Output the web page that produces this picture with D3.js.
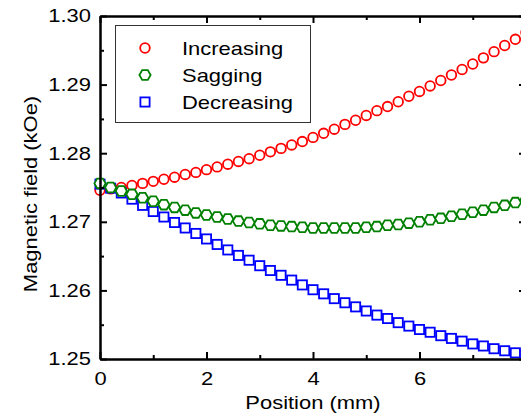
<!DOCTYPE html>
<html>
<head>
<meta charset="utf-8">
<script src="https://cdn.jsdelivr.net/npm/d3@7"></script>
<style>
  body { margin: 0; background: #fff; }
  svg { display: block; font-family: "Liberation Sans", Arial, sans-serif; }
</style>
</head>
<body>
<svg id="chart" width="521" height="416"></svg>
<script>
// positions in mm, one point every 0.2 mm
const positions = d3.range(41).map(i => +(i * 0.2).toFixed(1));

const increasing = [1.2746, 1.2748, 1.2750, 1.2753, 1.2756, 1.2759, 1.2762, 1.2765, 1.2769, 1.2772,
  1.2776, 1.2780, 1.2784, 1.2788, 1.2792, 1.2797, 1.2802, 1.2807, 1.2812, 1.2817,
  1.2823, 1.2829, 1.2835, 1.2842, 1.2848, 1.2855, 1.2862, 1.2868, 1.2875, 1.2883,
  1.2890, 1.2898, 1.2906, 1.2914, 1.2922, 1.2930, 1.2939, 1.2948, 1.2957, 1.2966, 1.2976];

const sagging = [1.2756, 1.2750, 1.2745, 1.2740, 1.2735, 1.2730, 1.2725, 1.2721, 1.2717, 1.2713,
  1.2710, 1.2707, 1.2704, 1.2701, 1.2699, 1.2697, 1.2695, 1.2694, 1.2693, 1.2692,
  1.2691, 1.2691, 1.2691, 1.2691, 1.2691, 1.2692, 1.2693, 1.2695, 1.2696, 1.2698,
  1.2700, 1.2703, 1.2705, 1.2708, 1.2711, 1.2714, 1.2717, 1.2721, 1.2724, 1.2728, 1.2732];

const decreasing = [1.2755, 1.2749, 1.2742, 1.2733, 1.2724, 1.2715, 1.2707, 1.2699, 1.2691, 1.2683,
  1.2675, 1.2667, 1.2659, 1.2651, 1.2644, 1.2636, 1.2629, 1.2622, 1.2615, 1.2608,
  1.2601, 1.2595, 1.2588, 1.2582, 1.2576, 1.2570, 1.2564, 1.2559, 1.2553, 1.2548,
  1.2543, 1.2539, 1.2534, 1.2530, 1.2526, 1.2522, 1.2519, 1.2515, 1.2512, 1.2509, 1.2506];

const seriesNames = ["Increasing", "Sagging", "Decreasing"];
const xMajor = [0, 2, 4, 6, 8];
const xMinor = [1, 3, 5, 7];
const yMajor = [1.25, 1.26, 1.27, 1.28, 1.29, 1.30];
const yMinor = [1.255, 1.265, 1.275, 1.285, 1.295];

const FONT = 18.6;
const STRETCH = 1.18; // text in the original is a bit wider than Arial

const svg = d3.select("#chart");

const x = d3.scaleLinear().domain([0, 8]).range([100, 526]);
const y = d3.scaleLinear().domain([1.25, 1.30]).range([359, 16]);

// marker shapes
function circleMark(g) {
  g.append("circle").attr("r", 4.8);
}
function hexMark(g) {
  const r = 5.6;
  const pts = d3.range(6).map(k => {
    const a = k * Math.PI / 3;
    return [r * Math.cos(a), r * Math.sin(a)];
  });
  g.append("path").attr("d", "M" + pts.join("L") + "Z");
}
function squareMark(g) {
  g.append("rect").attr("x", -4.6).attr("y", -4.6).attr("width", 9.2).attr("height", 9.2);
}

const series = [
  { name: seriesNames[0], values: increasing, color: "#ff0000", mark: circleMark },
  { name: seriesNames[1], values: sagging, color: "#008000", mark: hexMark },
  { name: seriesNames[2], values: decreasing, color: "#0000ff", mark: squareMark }
];

// draw order: red, blue, green
const drawOrder = [series[0], series[2], series[1]];
drawOrder.forEach(s => {
  const g = svg.append("g")
    .attr("fill", "#fff")
    .attr("stroke", s.color)
    .attr("stroke-width", 1.8);
  positions.forEach((p, i) => {
    const m = g.append("g").attr("transform", `translate(${x(p)},${y(s.values[i])})`);
    s.mark(m);
  });
});

// axes
function styleAxis(g) {
  g.selectAll("path.domain").attr("stroke", "#000").attr("stroke-width", 2);
  g.selectAll(".tick line").attr("stroke", "#000").attr("stroke-width", 2);
  g.selectAll("text").attr("font-size", FONT).attr("fill", "#000")
    .attr("font-family", "'Liberation Sans', Arial, sans-serif");
}

svg.append("g").attr("transform", "translate(0,359)")
  .call(d3.axisBottom(x).tickValues(xMinor).tickSizeInner(-4).tickSizeOuter(0).tickFormat(""))
  .call(styleAxis);
svg.append("g").attr("transform", "translate(0,359)")
  .call(d3.axisBottom(x).tickValues(xMajor).tickSizeInner(-7).tickSizeOuter(0).tickPadding(13).tickFormat(d3.format("d")))
  .call(styleAxis);

svg.append("g").attr("transform", "translate(0,16)")
  .call(d3.axisTop(x).tickValues(xMinor).tickSizeInner(-4).tickSizeOuter(0).tickFormat(""))
  .call(styleAxis);
svg.append("g").attr("transform", "translate(0,16)")
  .call(d3.axisTop(x).tickValues(xMajor).tickSizeInner(-7).tickSizeOuter(0).tickFormat(""))
  .call(styleAxis);

svg.append("g").attr("transform", "translate(100,0)")
  .call(d3.axisLeft(y).tickValues(yMinor).tickSizeInner(-4).tickSizeOuter(0).tickFormat(""))
  .call(styleAxis);
svg.append("g").attr("transform", "translate(100,0)")
  .call(d3.axisLeft(y).tickValues(yMajor).tickSizeInner(-7).tickSizeOuter(0).tickPadding(9).tickFormat(d3.format(".2f")))
  .call(styleAxis);

svg.append("g").attr("transform", "translate(526,0)")
  .call(d3.axisRight(y).tickValues(yMinor).tickSizeInner(-4).tickSizeOuter(0).tickFormat(""))
  .call(styleAxis);
svg.append("g").attr("transform", "translate(526,0)")
  .call(d3.axisRight(y).tickValues(yMajor).tickSizeInner(-7).tickSizeOuter(0).tickFormat(""))
  .call(styleAxis);

// axis titles
svg.append("text")
  .attr("x", 313).attr("y", 409)
  .attr("text-anchor", "middle")
  .attr("font-size", FONT)
  .text("Position (mm)");

svg.append("text")
  .attr("transform", "translate(37,194) rotate(-90)")
  .attr("text-anchor", "middle")
  .attr("font-size", FONT)
  .text("Magnetic field (kOe)");

// legend
const legend = svg.append("g");
legend.append("rect")
  .attr("x", 115.5).attr("y", 25.5)
  .attr("width", 195).attr("height", 97)
  .attr("fill", "#fff")
  .attr("stroke", "#333")
  .attr("stroke-width", 1);

series.forEach((s, i) => {
  const ly = 48 + i * 27;
  const m = legend.append("g")
    .attr("transform", `translate(145,${ly})`)
    .attr("fill", "#fff")
    .attr("stroke", s.color)
    .attr("stroke-width", 1.8);
  s.mark(m);
  legend.append("text")
    .attr("x", 182).attr("y", ly + 7)
    .attr("font-size", FONT)
    .text(s.name);
});

// widen every text a little
svg.selectAll("text").each(function() {
  const len = this.getComputedTextLength();
  if (len > 0) {
    d3.select(this)
      .attr("textLength", (len * STRETCH).toFixed(1))
      .attr("lengthAdjust", "spacingAndGlyphs");
  }
});
</script>
</body>
</html>
